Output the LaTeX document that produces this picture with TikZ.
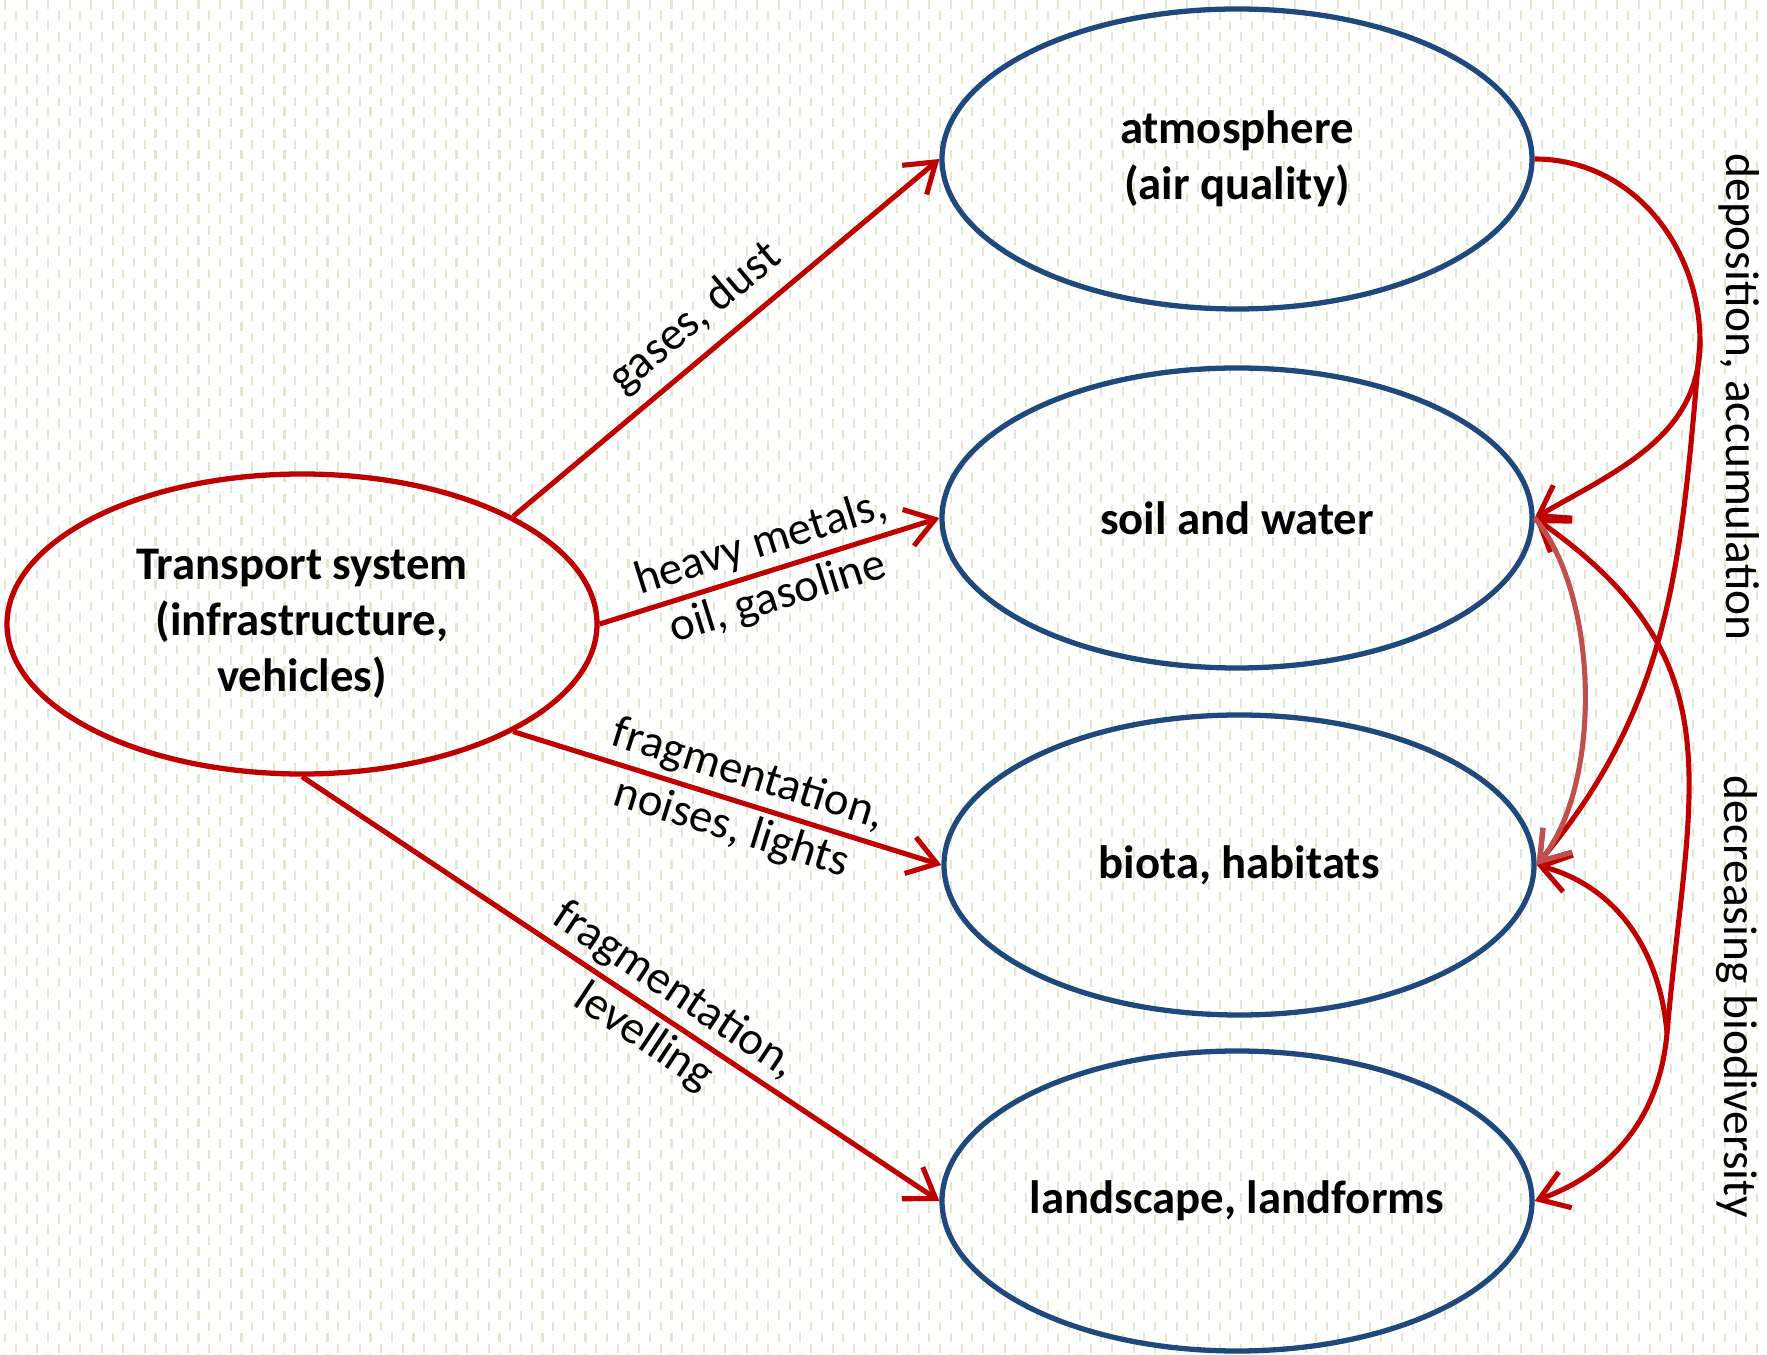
\documentclass[tikz,border=0pt]{standalone}
\usepackage{fontspec}
\setmainfont{Carlito}
\usepackage{tikz}
\usetikzlibrary{arrows.meta,shapes.geometric}

\definecolor{flowred}{RGB}{192,0,0}
\definecolor{paleflow}{RGB}{192,80,77}
\definecolor{topicblue}{RGB}{31,73,125}
\definecolor{dotgreen}{RGB}{226,232,208}

\begin{document}
\begin{tikzpicture}[
		>={Straight Barb[length=2.8mm,width=3.8mm]},
		topic/.style={ellipse, draw=topicblue, line width=1.5pt, minimum width=5.9cm, minimum height=3.0cm, inner sep=0pt, align=center, font=\fontsize{13.3}{16}\selectfont\bfseries},
		source/.style={topic, draw=flowred},
		flow/.style={->, flowred, line width=1.45pt},
		flowtext/.style={sloped, align=center, text=black, font=\fontsize{13.3}{16}\selectfont},
		bgdash/.style={dotgreen, line width=0.02cm, dash pattern=on 0.09cm off 0.125cm}
	]
		\useasboundingbox (0,0) rectangle (17.67,-13.55);
		\fill[white] (0,0) rectangle (17.67,-13.55);
		% dotted paper
		\foreach \i in {0,...,82} {
			\draw[bgdash] (0.05+0.215*\i,0) -- ++(0,-13.55);
			\draw[bgdash, dash phase=0.1075cm] (0.1575+0.215*\i,0) -- ++(0,-13.55);
		}

		\node[source] (transport) at (3.02,-6.24) {Transport system\\(infrastructure,\\vehicles)};
		\node[topic] (air) at (12.37,-1.59) {atmosphere\\(air quality)};
		\node[topic] (soil) at (12.37,-5.18) {soil and water};
		\node[topic] (biota) at (12.39,-8.65) {biota, habitats};
		\node[topic] (land) at (12.37,-12.01) {landscape, landforms};

		\draw[flow] (transport.27) -- node[flowtext, above, pos=0.48] {gases, dust} (air.west);
		\draw[flow] (transport.east) -- node[flowtext, pos=0.5] {heavy metals,\\oil, gasoline} (soil.west);
		\draw[flow] (transport.-27) -- node[flowtext, pos=0.53] {fragmentation,\\noises, lights} (biota.west);
		\draw[flow] (transport.south) -- node[flowtext, pos=0.56] {fragmentation,\\levelling} (land.west);

		% right hand loops
		\coordinate (depo) at (17.00,-3.42);
		\coordinate (biodiv) at (16.67,-10.33);
		\draw[flowred, line width=1.45pt] (air.east) to[out=0, in=90] (depo);
		\draw[flow] (depo) to[out=-90, in=30] (soil.east);
		\draw[flow] (depo) to[out=-95, in=50] (biota.east);
		\draw[flow] (biodiv) to[out=85, in=-35, looseness=1.2] (soil.east);
		\draw[flow] (biodiv) to[out=95, in=-15] (biota.east);
		\draw[flow] (biodiv) to[out=-95, in=20] (land.east);
		\draw[flow, paleflow] (soil.east) to[out=-50, in=50, looseness=0.75] (biota.east);

		\node[rotate=-90, font=\fontsize{13.5}{16}\selectfont] (depotext) at (17.39,-3.97) {deposition, accumulation};
		\node[rotate=-90, font=\fontsize{13.5}{16}\selectfont] (biodivtext) at (17.37,-9.97) {decreasing biodiversity};
	\end{tikzpicture}
\end{document}
